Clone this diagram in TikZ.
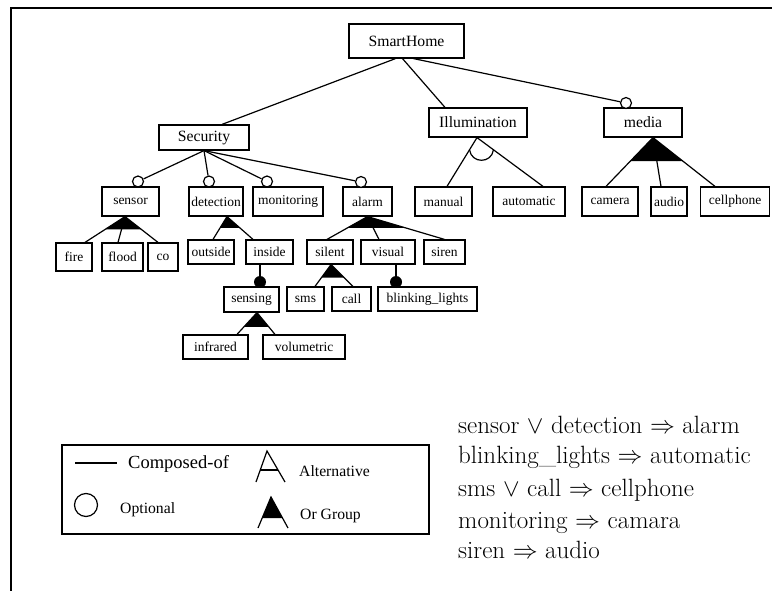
\documentclass[tikz,border=0pt]{standalone}
\usepackage{fontspec}
\newfontfamily\tnr{Liberation Serif}
\usetikzlibrary{calc}
\begin{document}
\begin{tikzpicture}[x=1pt,y=-1pt,
  lw/.style={line width=1.2pt},
  featbase/.style={draw, lw, fill=white, inner sep=0pt, minimum height=29pt},
  feat/.style={featbase, font=\tnr\fontsize{13.5}{15}\selectfont},
  topfeat/.style={featbase, font=\tnr\fontsize{15.7}{18}\selectfont},
  optc/.style={circle, draw, lw, fill=white, minimum size=11pt, inner sep=0pt},
  mandc/.style={circle, fill=black, minimum size=12pt, inner sep=0pt},
  legtxt/.style={anchor=base west, inner sep=0pt, font=\tnr\fontsize{15.7}{18}\selectfont},
  constr/.style={anchor=base west, inner sep=0pt, font=\fontsize{25}{29}\selectfont}
]
\useasboundingbox (0,0) rectangle (772,591);
% frame
\draw[line width=1.6pt] (11,591) -- (11,8) -- (772,8);

% ---- nodes ----
\node[topfeat, minimum width=115pt, minimum height=34pt] (sh) at (406.5,41) {SmartHome};
\node[topfeat, minimum width=90pt, minimum height=25pt] (sec) at (204,137.5) {Security};
\node[topfeat, minimum width=98pt] (ill) at (478,122.5) {Illumination};
\node[topfeat, minimum width=78pt] (med) at (643,122.5) {media};

\node[feat, minimum width=57pt] (sensor) at (130.5,201.5) {sensor};
\node[feat, minimum width=54pt] (detection) at (216,201.5) {detection};
\node[feat, minimum width=70pt] (monitoring) at (288,201.5) {monitoring};
\node[feat, minimum width=49pt] (alarm) at (367.5,201.5) {alarm};
\node[feat, minimum width=57pt] (manual) at (443.5,201.5) {manual};
\node[feat, minimum width=72pt] (automatic) at (529,201.5) {automatic};
\node[feat, minimum width=56pt] (camera) at (610,201.5) {camera};
\node[feat, minimum width=36pt] (audio) at (669,201.5) {audio};
\node[feat, minimum width=69pt] (cellphone) at (735,201.5) {cellphone};

\node[feat, minimum width=36pt, minimum height=28pt] (fire) at (74,257) {fire};
\node[feat, minimum width=41pt, minimum height=28pt] (flood) at (122.5,257) {flood};
\node[feat, minimum width=30pt, minimum height=28pt] (co) at (163,257) {co};
\node[feat, minimum width=46pt, minimum height=24pt] (outside) at (211,252) {outside};
\node[feat, minimum width=47pt, minimum height=24pt] (inside) at (269.5,252) {inside};
\node[feat, minimum width=46pt, minimum height=24pt] (silent) at (330,252) {silent};
\node[feat, minimum width=54pt, minimum height=24pt] (visual) at (388,252) {visual};
\node[feat, minimum width=41pt, minimum height=24pt] (siren) at (444.5,252) {siren};

\node[feat, minimum width=55pt, minimum height=25pt] (sensing) at (251.5,299.5) {sensing};
\node[feat, minimum width=37pt, minimum height=24pt] (sms) at (305.5,299) {sms};
\node[feat, minimum width=39pt, minimum height=24pt] (call) at (351.5,299) {call};
\node[feat, minimum width=99pt, minimum height=24pt] (blink) at (427.5,299) {blinking\_lights};
\node[feat, minimum width=65pt, minimum height=24pt] (infrared) at (215.5,347) {infrared};
\node[feat, minimum width=82pt, minimum height=24pt] (volumetric) at (304,347) {volumetric};

% ---- optional / mandatory markers ----
\node[optc] (osensor) at (138,181.5) {};
\node[optc] (odet) at (209,181.5) {};
\node[optc] (omon) at (267,181.5) {};
\node[optc] (oalarm) at (361,182) {};
\node[optc] (omed) at (626,103) {};
\node[mandc] (msens) at (260,282) {};
\node[mandc] (mblink) at (396,282) {};

% ---- composition lines ----
\draw[lw] ($(sh.south)+(-11,0)$) -- ($(sec.north)+(18,0)$);
\draw[lw] ($(sh.south)+(-4,0)$) -- ($(ill.north)+(-33,0)$);
\draw[lw] ($(sh.south)+(7,0)$) -- (omed);
\draw[lw] (sec.south) -- (osensor);
\draw[lw] (sec.south) -- (odet);
\draw[lw] (sec.south) -- (omon);
\draw[lw] (sec.south) -- (oalarm);
\draw[lw] (msens) -- (msens |- inside.south);
\draw[lw] (mblink) -- (mblink |- visual.south);

% ---- or groups ----
% sensor
\coordinate (gA) at ($(sensor.south)+(-5.5,0)$);
\coordinate (gA1) at ($(fire.north)+(11,0)$);
\coordinate (gA2) at ($(flood.north)+(-4.5,0)$);
\coordinate (gA3) at ($(co.north)+(-5,0)$);
\fill (gA) -- ($(gA)!0.5!(gA1)$) -- ($(gA)!0.5!(gA3)$) -- cycle;
\draw[lw] (gA1) -- (gA) -- (gA2) (gA) -- (gA3);
% detection
\coordinate (gB) at ($(detection.south)+(11,0)$);
\coordinate (gB1) at ($(outside.north)+(2,0)$);
\coordinate (gB2) at ($(inside.north)+(-16.5,0)$);
\fill (gB) -- ($(gB)!0.5!(gB1)$) -- ($(gB)!0.5!(gB2)$) -- cycle;
\draw[lw] (gB1) -- (gB) -- (gB2);
% alarm
\coordinate (gC) at (alarm.south);
\coordinate (gC1) at ($(silent.north)+(-3,0)$);
\coordinate (gC2) at ($(visual.north)+(-9,0)$);
\coordinate (gC3) at (siren.north);
\fill (gC) -- ($(gC)!0.5!(gC1)$) -- ($(gC)!0.5!(gC3)$) -- cycle;
\draw[lw] (gC1) -- (gC) -- (gC2) (gC) -- (gC3);
% silent
\coordinate (gD) at ($(silent.south)+(1,0)$);
\coordinate (gD1) at ($(sms.north)+(9.5,0)$);
\coordinate (gD2) at ($(call.north)+(1.5,0)$);
\fill (gD) -- ($(gD)!0.6!(gD1)$) -- ($(gD)!0.6!(gD2)$) -- cycle;
\draw[lw] (gD1) -- (gD) -- (gD2);
% sensing
\coordinate (gE) at ($(sensing.south)+(5.5,0)$);
\coordinate (gE1) at ($(infrared.north)+(21.5,0)$);
\coordinate (gE2) at ($(volumetric.north)+(-29,0)$);
\fill (gE) -- ($(gE)!0.65!(gE1)$) -- ($(gE)!0.65!(gE2)$) -- cycle;
\draw[lw] (gE1) -- (gE) -- (gE2);
% media
\coordinate (gF) at ($(med.south)+(10,0)$);
\coordinate (gF1) at ($(camera.north)+(-4,0)$);
\coordinate (gF2) at ($(audio.north)+(-8,0)$);
\coordinate (gF3) at ($(cellphone.north)+(-20,0)$);
\fill (gF) -- ($(gF)!0.48!(gF1)$) -- ($(gF)!0.48!(gF3)$) -- cycle;
\draw[lw] (gF1) -- (gF) -- (gF2) (gF) -- (gF3);
% illumination (alternative)
\coordinate (gG) at ($(ill.south)+(-1,0)$);
\coordinate (gG1) at ($(manual.north)+(3.5,0)$);
\coordinate (gG2) at ($(automatic.north)+(14,0)$);
\draw[lw] (gG1) -- (gG) -- (gG2);
\coordinate (gGa) at ($(gG)!0.25!(gG1)$);
\coordinate (gGb) at ($(gG)!0.25!(gG2)$);
\draw[lw] (gGa) .. controls ($(gGa)+(2,14)$) and ($(gGb)+(-2,14)$) .. (gGb);

% ---- legend ----
\draw[lw] (62,445) rectangle (429,534);
\draw[lw] (75,463) -- (117,463);
\node[anchor=base west, inner sep=0pt, font=\tnr\fontsize{18.5}{21}\selectfont] (lcomp) at (128,468) {Composed-of};
\draw[lw] (86,505) circle[radius=11.5];
\node[legtxt] (lopt) at (120,513) {Optional};
\coordinate (lA) at (267,451);
\coordinate (lA1) at (256,482);
\coordinate (lA2) at (285,482);
\draw[lw] (lA1) -- (lA) -- (lA2);
\draw[lw] ($(lA)!0.61!(lA1)$) -- ($(lA)!0.61!(lA2)$);
\node[legtxt] (lalt) at (299,476) {Alternative};
\coordinate (lO) at (271,497);
\coordinate (lO1) at (258,528);
\coordinate (lO2) at (288,528);
\fill (lO) -- ($(lO)!0.68!(lO1)$) -- ($(lO)!0.68!(lO2)$) -- cycle;
\draw[lw] (lO1) -- (lO) -- (lO2);
\node[legtxt] (lor) at (300,519) {Or Group};

% ---- constraints ----
\node[constr] (c1) at (458,433) {sensor $\vee$ detection $\Rightarrow$ alarm};
\node[constr] (c2) at (458,463) {blinking\_lights $\Rightarrow$ automatic};
\node[constr] (c3) at (458,496) {sms $\vee$ call $\Rightarrow$ cellphone};
\node[constr] (c4) at (458,528) {monitoring $\Rightarrow$ camara};
\node[constr] (c5) at (458,558) {siren $\Rightarrow$ audio};
\end{tikzpicture}
\end{document}
